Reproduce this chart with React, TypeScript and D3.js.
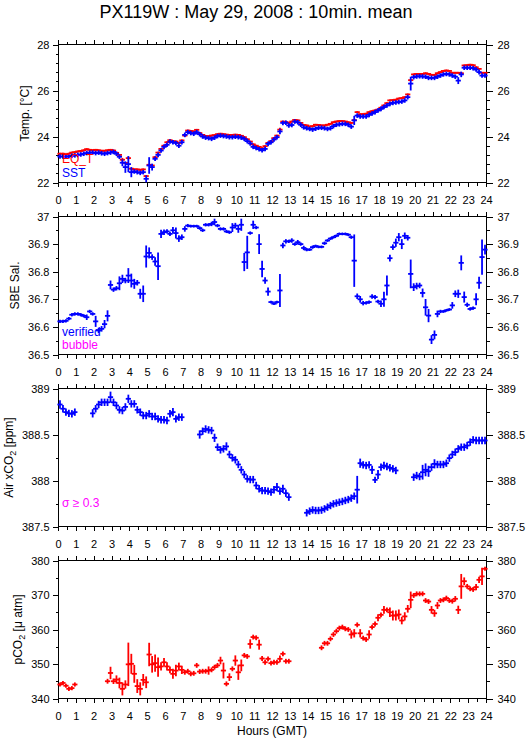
import React from "react";
import * as d3 from "d3";

// ---------- axis labels / ticks ----------
const HOURS = [0, 1, 2, 3, 4, 5, 6, 7, 8, 9, 10, 11, 12, 13, 14, 15, 16, 17, 18, 19, 20, 21, 22, 23, 24];
const HOUR_LABELS = HOURS.map(String);

const TEMP_TICKS = [22, 24, 26, 28];
const SAL_TICKS = [36.5, 36.6, 36.7, 36.8, 36.9, 37];
const SAL_LABELS = ["36.5", "36.6", "36.7", "36.8", "36.9", "37"];
const XCO2_TICKS = [387.5, 388, 388.5, 389];
const XCO2_LABELS = ["387.5", "388", "388.5", "389"];
const PCO2_TICKS = [340, 350, 360, 370, 380];

// ---------- data: 10-minute means, 6 per hour ----------
const SST = [
  23.13, 23.13, 23.12, 23.14, 23.16, 23.18,
  23.2, 23.22, 23.25, 23.28, 23.3, 23.3,
  23.28, 23.3, 23.27, 23.25, 23.28, 23.3,
  23.33, 23.25, 23.12, 22.86, 22.67, 22.8,
  22.45, 22.48, 22.45, 22.42, 22.45, 22.16,
  22.74, 22.67, 23.03, 23.2, 23.39, 23.55,
  23.64, 23.78, 23.75, 23.72, 23.6, 23.75,
  24.07, 24.19, 24.15, 24.12, 24.19, 24.1,
  24.0, 23.95, 23.93, 23.9, 23.95, 24.02,
  24.04, 24.02, 24.0, 23.97, 23.97, 23.99,
  23.97, 23.95, 23.9, 23.8, 23.7, 23.55,
  23.5, 23.45, 23.4, 23.46, 23.68, 23.75,
  23.87, 23.97, 24.22, 24.59, 24.6, 24.48,
  24.5, 24.65, 24.62, 24.51, 24.4, 24.36,
  24.33, 24.3, 24.34, 24.38, 24.38, 24.36,
  24.33, 24.36, 24.45, 24.51, 24.53, 24.55,
  24.55, 24.51, 24.43, 24.7, 24.91, 24.87,
  24.87, 24.87, 24.94, 25.0, 25.06, 25.13,
  25.2, 25.28, 25.35, 25.42, 25.46, 25.48,
  25.5, 25.52, 25.57, 25.71, 26.3, 26.58,
  26.61, 26.62, 26.61, 26.6, 26.55, 26.55,
  26.55, 26.6, 26.65, 26.7, 26.72, 26.7,
  26.65, 26.6, 26.43, 26.7, 26.99, 26.99,
  26.99, 26.97, 26.91, 26.8, 26.65, 26.65,
];
const SST_ERR = [
  0.1, 0.1, 0.1, 0.1, 0.1, 0.1,
  0.1, 0.1, 0.1, 0.1, 0.1, 0.1,
  0.1, 0.1, 0.1, 0.1, 0.1, 0.1,
  0.1, 0.1, 0.1, 0.15, 0.25, 0.35,
  0.22, 0.1, 0.1, 0.1, 0.1, 0.15,
  0.36, 0.15, 0.1, 0.1, 0.1, 0.1,
  0.1, 0.1, 0.1, 0.1, 0.1, 0.1,
  0.1, 0.1, 0.1, 0.1, 0.1, 0.1,
  0.1, 0.1, 0.1, 0.1, 0.1, 0.1,
  0.1, 0.1, 0.1, 0.1, 0.1, 0.1,
  0.1, 0.1, 0.1, 0.1, 0.1, 0.1,
  0.1, 0.1, 0.1, 0.1, 0.1, 0.1,
  0.1, 0.1, 0.12, 0.1, 0.1, 0.1,
  0.1, 0.1, 0.1, 0.1, 0.1, 0.1,
  0.1, 0.1, 0.1, 0.1, 0.1, 0.1,
  0.1, 0.1, 0.1, 0.1, 0.1, 0.1,
  0.1, 0.1, 0.1, 0.2, 0.1, 0.1,
  0.1, 0.1, 0.1, 0.1, 0.1, 0.1,
  0.1, 0.1, 0.1, 0.1, 0.1, 0.1,
  0.1, 0.1, 0.1, 0.1, 0.3, 0.1,
  0.1, 0.1, 0.1, 0.1, 0.1, 0.1,
  0.1, 0.1, 0.1, 0.1, 0.1, 0.1,
  0.1, 0.1, 0.15, 0.12, 0.1, 0.1,
  0.1, 0.1, 0.1, 0.1, 0.1, 0.1,
];
const EQT = [
  23.25, 23.25, 23.22, 23.25, 23.3, 23.32,
  23.35, 23.37, 23.4, 23.45, 23.42, 23.4,
  23.42, 23.4, 23.38, 23.38, 23.4, 23.42,
  23.39, 23.29, 23.2, 22.99, 22.85, 23.06,
  22.6, 22.57, 22.57, 22.55, 22.57, 22.28,
  22.77, 22.74, 23.1, 23.3, 23.46, 23.6,
  23.75, 23.84, 23.8, 23.78, 23.72, 23.83,
  24.04, 24.26, 24.24, 24.22, 24.29, 24.15,
  24.07, 24.02, 24.01, 24.04, 24.06, 24.1,
  24.12, 24.1, 24.08, 24.07, 24.07, 24.08,
  24.07, 24.03, 23.97, 23.88, 23.78, 23.66,
  23.6, 23.55, 23.49, 23.58, 23.72, 23.8,
  23.93, 24.04, 24.3, 24.65, 24.63, 24.59,
  24.65, 24.72, 24.7, 24.59, 24.5, 24.48,
  24.43, 24.45, 24.51, 24.5, 24.48, 24.48,
  24.51, 24.55, 24.62, 24.65, 24.67, 24.67,
  24.65, 24.62, 24.59, 24.71, 25.06, 24.97,
  24.97, 24.99, 25.06, 25.1, 25.13, 25.17,
  25.25, 25.35, 25.45, 25.57, 25.58, 25.6,
  25.65, 25.67, 25.71, 25.83, 26.45, 26.7,
  26.72, 26.72, 26.72, 26.75, 26.72, 26.68,
  26.68, 26.75, 26.8, 26.85, 26.87, 26.85,
  26.77, 26.77, 26.77, 26.75, 27.09, 27.1,
  27.12, 27.1, 27.01, 26.94, 26.77, 26.77,
];
const EQT_ERR = [
  0.03, 0.03, 0.03, 0.03, 0.03, 0.03,
  0.03, 0.03, 0.03, 0.03, 0.03, 0.03,
  0.03, 0.03, 0.03, 0.03, 0.03, 0.03,
  0.03, 0.03, 0.03, 0.08, 0.03, 0.06,
  0.03, 0.03, 0.03, 0.03, 0.03, 0.03,
  0.03, 0.03, 0.03, 0.03, 0.03, 0.03,
  0.03, 0.03, 0.03, 0.03, 0.03, 0.03,
  0.03, 0.03, 0.03, 0.03, 0.03, 0.03,
  0.03, 0.03, 0.03, 0.03, 0.03, 0.03,
  0.03, 0.03, 0.03, 0.03, 0.03, 0.03,
  0.03, 0.03, 0.03, 0.03, 0.03, 0.03,
  0.03, 0.03, 0.03, 0.03, 0.03, 0.03,
  0.03, 0.03, 0.08, 0.03, 0.03, 0.03,
  0.03, 0.03, 0.03, 0.03, 0.03, 0.03,
  0.03, 0.03, 0.03, 0.03, 0.03, 0.03,
  0.03, 0.03, 0.03, 0.03, 0.03, 0.03,
  0.03, 0.03, 0.03, 0.03, 0.03, 0.03,
  0.03, 0.03, 0.03, 0.03, 0.03, 0.03,
  0.03, 0.03, 0.03, 0.03, 0.03, 0.03,
  0.03, 0.03, 0.03, 0.03, 0.03, 0.03,
  0.03, 0.03, 0.03, 0.03, 0.03, 0.03,
  0.03, 0.03, 0.03, 0.03, 0.03, 0.03,
  0.03, 0.03, 0.03, 0.03, 0.03, 0.03,
  0.03, 0.03, 0.03, 0.03, 0.03, 0.03,
];

const SAL = [
  36.62, 36.62, 36.622, 36.63, 36.644, 36.647,
  36.647, 36.644, 36.64, 36.635, 36.656, 36.647,
  36.62, 36.587, 36.593, 36.61, 36.64, 36.752,
  36.735, 36.74, 36.758, 36.774, 36.768, 36.786,
  36.768, 36.756, 36.76, 36.72, 36.72, 36.855,
  36.868, 36.853, 36.837, 36.82, 36.937, 36.943,
  36.946, 36.937, 36.95, 36.94, 36.92, 36.925,
  36.955, 36.967, 36.965, 36.965, 36.965, 36.958,
  36.95, 36.97, 36.97, 36.973, 36.98, 36.967,
  36.955, 36.955, 36.946, 36.943, 36.96, 36.967,
  36.955, 36.97, 36.835, 36.87, 36.94, 36.97,
  36.96, 36.9, 36.81, 36.768, 36.728, 36.69,
  36.684, 36.69, 36.732, 36.895, 36.91, 36.91,
  36.913, 36.9, 36.907, 36.9, 36.886, 36.88,
  36.88, 36.889, 36.893, 36.89, 36.89, 36.903,
  36.913, 36.92, 36.925, 36.93, 36.937, 36.937,
  36.937, 36.934, 36.925, 36.84, 36.711, 36.7,
  36.686, 36.687, 36.69, 36.71, 36.708, 36.692,
  36.684, 36.7, 36.75, 36.849, 36.889, 36.905,
  36.925, 36.9, 36.93, 36.923, 36.792, 36.744,
  36.748, 36.75, 36.723, 36.671, 36.641, 36.554,
  36.571, 36.647, 36.656, 36.656, 36.66, 36.663,
  36.678, 36.72, 36.72, 36.832, 36.708, 36.68,
  36.665, 36.668, 36.7, 36.76, 36.853, 36.88,
];
const SAL_ERR = [
  0.006, 0.006, 0.006, 0.006, 0.006, 0.006,
  0.006, 0.006, 0.006, 0.01, 0.006, 0.006,
  0.02, 0.01, 0.01, 0.015, 0.02, 0.016,
  0.008, 0.008, 0.025, 0.015, 0.01, 0.027,
  0.025, 0.018, 0.01, 0.018, 0.03, 0.04,
  0.02, 0.01, 0.015, 0.05, 0.015, 0.01,
  0.008, 0.008, 0.012, 0.02, 0.012, 0.01,
  0.01, 0.006, 0.005, 0.005, 0.005, 0.006,
  0.006, 0.006, 0.006, 0.008, 0.012, 0.006,
  0.006, 0.006, 0.006, 0.006, 0.016, 0.01,
  0.014, 0.022, 0.033, 0.06, 0.006, 0.015,
  0.006, 0.036, 0.03, 0.012, 0.015, 0.005,
  0.005, 0.005, 0.06, 0.01, 0.008, 0.006,
  0.008, 0.006, 0.008, 0.006, 0.008, 0.006,
  0.005, 0.006, 0.005, 0.005, 0.005, 0.006,
  0.005, 0.005, 0.005, 0.005, 0.005, 0.005,
  0.005, 0.005, 0.006, 0.095, 0.01, 0.012,
  0.008, 0.006, 0.006, 0.008, 0.008, 0.006,
  0.012, 0.027, 0.036, 0.012, 0.01, 0.015,
  0.015, 0.018, 0.012, 0.01, 0.052, 0.014,
  0.012, 0.01, 0.016, 0.03, 0.024, 0.016,
  0.016, 0.012, 0.006, 0.005, 0.005, 0.005,
  0.012, 0.012, 0.015, 0.027, 0.02, 0.008,
  0.006, 0.006, 0.022, 0.022, 0.064, 0.018,
];

const N = null;
const XCO2: (number | null)[] = [
  388.826, 388.78, 388.743, 388.73, 388.725, 388.743,
  N, N, N, N, N, 388.73,
  388.78, 388.826, 388.85, 388.85, 388.85, 388.906,
  388.85, 388.815, 388.768, 388.76, 388.8, 388.888,
  388.833, 388.833, 388.768, 388.743, 388.706, 388.706,
  388.725, 388.696, 388.696, 388.67, 388.66, 388.66,
  388.652, 388.725, 388.743, 388.67, 388.688, 388.688,
  N, N, N, N, N, 388.5,
  388.536, 388.56, 388.55, 388.543, 388.464, 388.362,
  388.333, 388.344, 388.37, 388.283, 388.246, 388.225,
  388.174, 388.116, 388.065, 388.018, 388.01, 388.01,
  387.946, 387.91, 387.89, 387.89, 387.884, 387.873,
  387.9, 387.928, 387.884, 387.91, 387.862, 387.819,
  N, N, N, N, N, 387.649,
  387.667, 387.68, 387.674, 387.674, 387.678, 387.692,
  387.71, 387.728, 387.746, 387.755, 387.764, 387.772,
  387.783, 387.793, 387.808, 387.83, 387.9, 388.188,
  388.17, 388.163, 388.17, 388.116, 388.007, 388.065,
  388.145, 388.163, 388.152, 388.138, 388.127, 388.109,
  N, N, N, N, N, 388.036,
  388.054, 388.043, 388.09, 388.116, 388.1, 388.145,
  388.181, 388.174, 388.174, 388.174, 388.188, 388.243,
  388.283, 388.308, 388.344, 388.362, 388.362, 388.38,
  388.417, 388.442, 388.435, 388.435, 388.435, 388.435,
];
const XCO2_ERR = [
  0.045, 0.04, 0.04, 0.04, 0.04, 0.04,
  0, 0, 0, 0, 0, 0.045,
  0.04, 0.04, 0.04, 0.04, 0.04, 0.06,
  0.04, 0.04, 0.04, 0.04, 0.04, 0.045,
  0.04, 0.04, 0.04, 0.04, 0.04, 0.04,
  0.04, 0.04, 0.04, 0.04, 0.04, 0.04,
  0.04, 0.04, 0.045, 0.04, 0.04, 0.04,
  0, 0, 0, 0, 0, 0.045,
  0.04, 0.04, 0.04, 0.04, 0.045, 0.04,
  0.04, 0.04, 0.045, 0.04, 0.04, 0.04,
  0.04, 0.04, 0.04, 0.04, 0.04, 0.04,
  0.04, 0.04, 0.04, 0.04, 0.04, 0.04,
  0.04, 0.045, 0.04, 0.045, 0.04, 0.04,
  0, 0, 0, 0, 0, 0.04,
  0.04, 0.04, 0.04, 0.04, 0.04, 0.04,
  0.04, 0.04, 0.04, 0.04, 0.04, 0.04,
  0.04, 0.04, 0.04, 0.04, 0.15, 0.05,
  0.04, 0.04, 0.04, 0.045, 0.035, 0.05,
  0.04, 0.04, 0.04, 0.04, 0.04, 0.04,
  0, 0, 0, 0, 0, 0.04,
  0.04, 0.04, 0.08, 0.07, 0.06, 0.04,
  0.05, 0.04, 0.04, 0.04, 0.04, 0.04,
  0.04, 0.04, 0.04, 0.04, 0.04, 0.04,
  0.04, 0.04, 0.04, 0.04, 0.04, 0.04,
];

const PCO2: (number | null)[] = [
  344.06, 344.5, 343.7, 342.8, 343.0, 344.06,
  N, N, N, N, N, N,
  N, N, N, N, 345.0, 347.4,
  345.0, 345.5, 344.5, 342.8, 344.06, 349.9,
  350.05, 347.15, 343.6, 342.8, 345.4, 344.7,
  352.75, 349.9, 350.24, 349.08, 349.3, 350.5,
  349.3, 348.3, 347.15, 348.1, 349.3, 348.3,
  347.6, 347.9, 347.15, 347.3, 349.6, 347.8,
  347.9, 347.9, 348.1, 348.3, 349.08, 349.6,
  351.0, 348.1, 344.25, 346.2, 348.6, 351.0,
  347.6, 349.6, 352.5, 352.2, 355.8, 357.8,
  357.6, 355.6, 351.6, 350.5, 351.5, 350.24,
  350.5, 350.5, 351.5, 352.95, 350.8, 350.8,
  N, N, N, N, N, N,
  N, N, N, N, 354.7, 356.0,
  356.0, 357.3, 358.55, 359.5, 360.4, 360.7,
  360.2, 360.0, 358.55, 358.9, 361.35, 358.9,
  357.5, 357.1, 358.55, 360.7, 361.6, 363.4,
  364.25, 365.7, 365.7, 365.0, 364.06, 364.06,
  364.35, 362.6, 363.8, 366.0, 368.6, 369.86,
  370.34, 370.34, 370.34, 368.4, 368.1, 365.7,
  364.7, 366.96, 368.4, 368.6, 369.1, 368.4,
  368.2, 368.9, 365.7, 372.5, 374.0, 372.5,
  371.8, 371.6, 372.3, 374.4, 375.4, 377.6,
];
const PCO2_ERR = [
  0.6, 0.6, 0.6, 0.6, 0.6, 0.6,
  0, 0, 0, 0, 0, 0,
  0, 0, 0, 0, 0.7, 1.8,
  0.8, 1.2, 1.55, 1.9, 1.2, 6.3,
  2.9, 2.6, 2.0, 1.9, 1.7, 1.7,
  3.4, 2.4, 2.5, 2.8, 1.2, 1.25,
  1.2, 1.0, 1.45, 1.65, 1.1, 1.2,
  0.7, 0.7, 0.7, 0.7, 0.7, 0.7,
  0.7, 0.7, 1.2, 0.7, 0.7, 0.7,
  1.1, 2.3, 0.7, 1.1, 0.7, 1.5,
  2.2, 1.7, 0.7, 0.7, 1.35, 0.7,
  0.7, 1.45, 0.7, 0.7, 0.7, 0.7,
  0.7, 0.7, 1.0, 0.7, 0.7, 0.7,
  0, 0, 0, 0, 0, 0,
  0, 0, 0, 0, 0.7, 0.7,
  0.7, 0.7, 0.7, 0.7, 0.7, 0.7,
  0.7, 0.7, 1.2, 1.2, 0.7, 1.2,
  0.7, 0.7, 1.2, 0.7, 0.7, 1.0,
  0.7, 1.1, 0.7, 1.35, 1.45, 1.45,
  1.45, 1.1, 1.2, 1.1, 2.4, 0.7,
  0.7, 0.7, 0.7, 0.7, 0.7, 1.1,
  1.0, 1.0, 0.7, 0.7, 0.7, 0.7,
  0.7, 0.8, 1.2, 3.6, 1.1, 0.7,
  0.7, 0.7, 0.9, 0.9, 2.5, 0.6,
];

// ---------- layout ----------
const W = 529;
const H = 739;
const X0 = 58.5;
const X1 = 486.5;
const PH = 138;
const FONT = "'Liberation Sans', Arial, Helvetica, sans-serif";
const BLUE = "#0000ff";
const RED = "#ff0000";
const MAGENTA = "#ff00ff";

const x = d3.scaleLinear().domain([0, 24]).range([X0, X1]);
const slotTime = (i: number) => (i * 10 + 5) / 60;

type PanelSpec = {
  top: number;
  domain: [number, number];
  ticks: number[];
  labels: string[];
  minorStep: number;
};

function Crosses({ values, errs, y, color }: { values: (number | null)[]; errs: number[]; y: d3.ScaleLinear<number, number>; color: string }) {
  return (
    <g stroke={color} strokeWidth={1.8} fill="none">
      {values.map((v, i) => {
        if (v == null) return null;
        const cx = x(slotTime(i));
        const cy = y(v);
        const e = errs[i] || 0;
        const y1 = Math.min(y(v + e), cy - 0.9);
        const y2 = Math.max(y(v - e), cy + 0.9);
        return (
          <g key={i}>
            <line x1={cx - 2.6} x2={cx + 2.6} y1={cy} y2={cy} />
            <line x1={cx} x2={cx} y1={y1} y2={y2} />
          </g>
        );
      })}
    </g>
  );
}

function Frame({ spec, y }: { spec: PanelSpec; y: d3.ScaleLinear<number, number> }) {
  const top = spec.top;
  const bottom = top + PH;
  const [lo, hi] = spec.domain;
  const minor = d3.range(lo, hi + spec.minorStep / 2, spec.minorStep);
  const halfHours = d3.range(0.5, 24, 1);
  return (
    <g stroke="#000" strokeWidth={1} shapeRendering="crispEdges">
      <rect x={X0} y={top} width={X1 - X0} height={PH} fill="none" />
      {HOURS.map((h) => (
        <g key={"h" + h}>
          <line x1={x(h)} x2={x(h)} y1={top} y2={top - 5} />
          <line x1={x(h)} x2={x(h)} y1={bottom} y2={bottom + 4} />
        </g>
      ))}
      {halfHours.map((h) => (
        <g key={"hh" + h}>
          <line x1={x(h)} x2={x(h)} y1={top} y2={top - 3} />
          <line x1={x(h)} x2={x(h)} y1={bottom} y2={bottom + 3} />
        </g>
      ))}
      {minor.map((v, i) => (
        <g key={"m" + i}>
          <line x1={X0} x2={X0 - 3} y1={Math.round(y(v)) + 0.5} y2={Math.round(y(v)) + 0.5} />
          <line x1={X1} x2={X1 + 3} y1={Math.round(y(v)) + 0.5} y2={Math.round(y(v)) + 0.5} />
        </g>
      ))}
      {spec.ticks.map((v, i) => (
        <g key={"t" + i}>
          <line x1={X0} x2={X0 - 6} y1={Math.round(y(v)) + 0.5} y2={Math.round(y(v)) + 0.5} />
          <line x1={X1} x2={X1 + 6} y1={Math.round(y(v)) + 0.5} y2={Math.round(y(v)) + 0.5} />
        </g>
      ))}
    </g>
  );
}

function Labels({ spec, y }: { spec: PanelSpec; y: d3.ScaleLinear<number, number> }) {
  const bottom = spec.top + PH;
  return (
    <g fontFamily={FONT} fontSize={11} fill="#000">
      {spec.ticks.map((v, i) => (
        <g key={i}>
          <text x={X0 - 9} y={y(v) + 4} textAnchor="end">{spec.labels[i]}</text>
          <text x={X1 + 11} y={y(v) + 4} textAnchor="start">{spec.labels[i]}</text>
        </g>
      ))}
      {HOURS.map((h, i) => (
        <text key={"x" + h} x={x(h)} y={bottom + 21} textAnchor="middle">{HOUR_LABELS[i]}</text>
      ))}
    </g>
  );
}

const PANELS: PanelSpec[] = [
  { top: 44.5, domain: [22, 28], ticks: TEMP_TICKS, labels: TEMP_TICKS.map(String), minorStep: 0.4 },
  { top: 216.5, domain: [36.5, 37], ticks: SAL_TICKS, labels: SAL_LABELS, minorStep: 0.05 },
  { top: 388.5, domain: [387.5, 389], ticks: XCO2_TICKS, labels: XCO2_LABELS, minorStep: 0.25 },
  { top: 560.5, domain: [340, 380], ticks: PCO2_TICKS, labels: PCO2_TICKS.map(String), minorStep: 5 },
];

export default function App() {
  const ys = PANELS.map((p) => d3.scaleLinear().domain(p.domain).range([p.top + PH, p.top]));
  const mid = (i: number) => PANELS[i].top + PH / 2;
  return (
    <svg width={W} height={H} style={{ position: "absolute", left: 0, top: 0, background: "#fff" }} xmlns="http://www.w3.org/2000/svg">
      <rect x={0} y={0} width={W} height={H} fill="#fff" />
      <text x={256} y={17.5} textAnchor="middle" fontFamily={FONT} fontSize={18} fill="#000">
        PX119W : May 29, 2008 : 10min. mean
      </text>

      {PANELS.map((p, i) => (
        <g key={i}>
          <Frame spec={p} y={ys[i]} />
          <Labels spec={p} y={ys[i]} />
        </g>
      ))}

      {/* Panel 1: temperatures */}
      <Crosses values={EQT} errs={EQT_ERR} y={ys[0]} color={RED} />
      <Crosses values={SST} errs={SST_ERR} y={ys[0]} color={BLUE} />
      {/* Panel 2: salinity */}
      <Crosses values={SAL} errs={SAL_ERR} y={ys[1]} color={BLUE} />
      {/* Panel 3: atmospheric xCO2 */}
      <Crosses values={XCO2} errs={XCO2_ERR} y={ys[2]} color={BLUE} />
      {/* Panel 4: pCO2 */}
      <Crosses values={PCO2} errs={PCO2_ERR} y={ys[3]} color={RED} />

      <g fontFamily={FONT} fontSize={12}>
        <text x={62} y={163} fill={RED}>EQ_T</text>
        <text x={62} y={177} fill={BLUE}>SST</text>
        <text x={62} y={336} fill={BLUE}>verified</text>
        <text x={62} y={349} fill={MAGENTA}>bubble</text>
        <text x={62} y={507} fill={MAGENTA}>σ ≥ 0.3</text>
      </g>

      <g fontFamily={FONT} fontSize={12} fill="#000">
        <text transform={`translate(29,${mid(0)}) rotate(-90)`} textAnchor="middle">Temp. [°C]</text>
        <text transform={`translate(18.5,${mid(1)}) rotate(-90)`} textAnchor="middle">SBE Sal.</text>
        <text transform={`translate(12.5,${mid(2)}) rotate(-90)`} textAnchor="middle">
          Air xCO<tspan fontSize={9} dy={3}>2</tspan><tspan dy={-3}> [ppm]</tspan>
        </text>
        <text transform={`translate(22,${mid(3)}) rotate(-90)`} textAnchor="middle">
          pCO<tspan fontSize={9} dy={3}>2</tspan><tspan dy={-3}> [μ atm]</tspan>
        </text>
        <text x={272} y={735} textAnchor="middle">Hours (GMT)</text>
      </g>
    </svg>
  );
}
